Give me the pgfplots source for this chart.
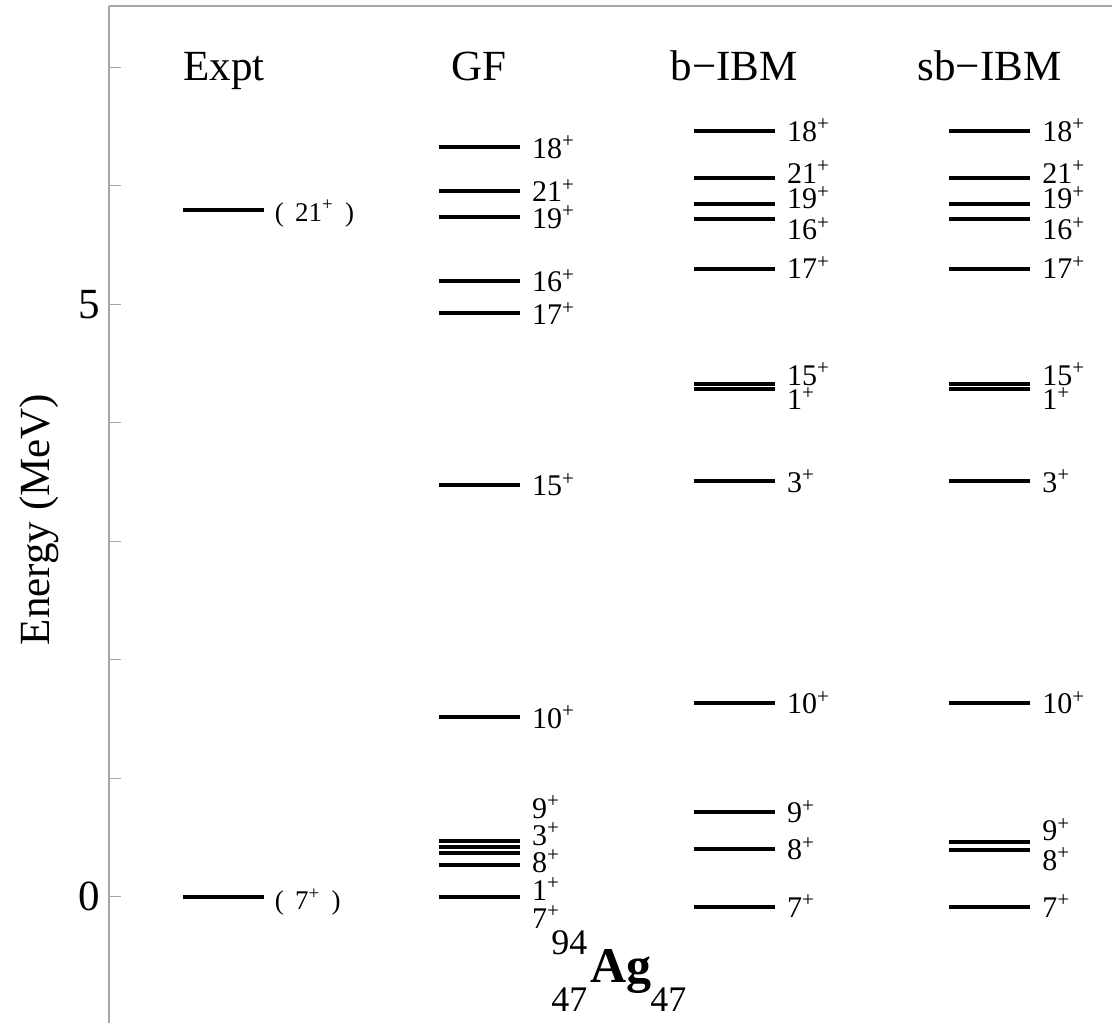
\documentclass[border=0pt]{standalone}
\usepackage{fontspec}
\setmainfont{Liberation Serif}
\usepackage{pgfplots}
\pgfplotsset{compat=1.18}
\usepackage{pgfplotstable}

% level energies (MeV); c = column: 1 Expt, 2 GF, 3 b-IBM, 4 sb-IBM
\pgfplotstableread{
c e
1 0.000
1 5.795
}\expt
\pgfplotstableread{
c e
2 0.000
2 0.268
2 0.366
2 0.417
2 0.473
2 1.516
2 3.475
2 4.923
2 5.198
2 5.733
2 5.958
2 6.324
}\gf
\pgfplotstableread{
c e
3 -0.090
3 0.400
3 0.717
3 1.635
3 3.508
3 4.287
3 4.327
3 5.295
3 5.719
3 5.846
3 6.062
3 6.464
}\bibm
\pgfplotstableread{
c e
4 -0.090
4 0.394
4 0.464
4 1.635
4 3.508
4 4.287
4 4.327
4 5.295
4 5.719
4 5.846
4 6.062
4 6.464
}\sbibm

\newcommand{\spin}[3]{\node[anchor=west, inner sep=0pt, xshift=6pt,
  font=\fontsize{15}{16}\selectfont] at (axis cs:#1,#2) {#3\textsuperscript{+}};}
\newcommand{\espin}[3]{\node[anchor=west, inner sep=0pt, xshift=5pt,
  font=\fontsize{13.5}{15}\selectfont] at (axis cs:#1,#2) {(\ \,#3\textsuperscript{+}\ \,)};}

\pgfplotsset{level/.style={draw=none, mark=none, forget plot,
    error bars/.cd, x dir=both, x fixed=0.1587, error mark=none,
    error bar style={draw=black, line width=2pt}}}

\begin{document}
\begin{tikzpicture}
\begin{axis}[
  scale only axis, width=501.5pt, height=508.5pt,
  xmin=0.5494, xmax=4.48, ymin=-1.066, ymax=7.517,
  axis x line*=top, axis y line*=left,
  xtick=\empty,
  ytick={0,5},
  extra y ticks={1,2,3,4,6,7}, extra y tick labels={},
  tick align=inside, major tick length=6pt,
  axis line style={gray!70, line width=0.6pt},
  every tick/.style={gray!70, line width=0.6pt},
  yticklabel style={font=\fontsize{21.5}{24}\selectfont, inner sep=0pt, xshift=-4.5pt},
  /pgf/number format/assume math mode=true,
  ylabel={Energy (MeV)},
  ylabel style={at={(axis description cs:-0.0698,0.4951)}, anchor=center,
    font=\fontsize{21.5}{24}\selectfont},
  clip=false,
]
\addplot[level] table[x=c, y=e] {\expt};
\addplot[level] table[x=c, y=e] {\gf};
\addplot[level] table[x=c, y=e] {\bibm};
\addplot[level] table[x=c, y=e] {\sbibm};

% column titles
\node[anchor=base, font=\fontsize{21.5}{24}\selectfont] at (axis cs:1,6.892) {Expt};
\node[anchor=base, font=\fontsize{21.5}{24}\selectfont] at (axis cs:2,6.892) {GF};
\node[anchor=base, font=\fontsize{21.5}{24}\selectfont] at (axis cs:3,6.892) {b−IBM};
\node[anchor=base, font=\fontsize{21.5}{24}\selectfont] at (axis cs:4,6.892) {sb−IBM};

% Expt
\espin{1.1587}{5.764}{21}
\espin{1.1587}{-0.045}{7}

% GF
\spin{2.1587}{6.324}{18}
\spin{2.1587}{5.958}{21}
\spin{2.1587}{5.733}{19}
\spin{2.1587}{5.198}{16}
\spin{2.1587}{4.923}{17}
\spin{2.1587}{3.475}{15}
\spin{2.1587}{1.516}{10}
\spin{2.1587}{0.757}{9}
\spin{2.1587}{0.529}{3}
\spin{2.1587}{0.301}{8}
\spin{2.1587}{0.065}{1}
\spin{2.1587}{-0.171}{7}

% b-IBM
\spin{3.1587}{6.470}{18}
\spin{3.1587}{6.116}{21}
\spin{3.1587}{5.899}{19}
\spin{3.1587}{5.637}{16}
\spin{3.1587}{5.308}{17}
\spin{3.1587}{4.411}{15}
\spin{3.1587}{4.203}{1}
\spin{3.1587}{3.508}{3}
\spin{3.1587}{1.635}{10}
\spin{3.1587}{0.715}{9}
\spin{3.1587}{0.405}{8}
\spin{3.1587}{-0.078}{7}

% sb-IBM
\spin{4.1587}{6.470}{18}
\spin{4.1587}{6.116}{21}
\spin{4.1587}{5.899}{19}
\spin{4.1587}{5.637}{16}
\spin{4.1587}{5.308}{17}
\spin{4.1587}{4.411}{15}
\spin{4.1587}{4.203}{1}
\spin{4.1587}{3.508}{3}
\spin{4.1587}{1.635}{10}
\spin{4.1587}{0.563}{9}
\spin{4.1587}{0.318}{8}
\spin{4.1587}{-0.078}{7}

% nucleus symbol
\node[anchor=base west, inner sep=0pt, font=\fontsize{25}{28}\selectfont\bfseries] at (axis cs:2.434,-0.720) {Ag};
\node[anchor=base east, inner sep=0pt, font=\fontsize{18}{20}\selectfont] at (axis cs:2.426,-0.492) {94};
\node[anchor=base east, inner sep=0pt, font=\fontsize{18}{20}\selectfont] at (axis cs:2.426,-0.973) {47};
\node[anchor=base west, inner sep=0pt, font=\fontsize{18}{20}\selectfont] at (axis cs:2.669,-0.973) {47};
\end{axis}
\pgfresetboundingbox
\path (-54.5pt,0pt) rectangle (501.5pt,511.5pt);
\end{tikzpicture}
\end{document}
